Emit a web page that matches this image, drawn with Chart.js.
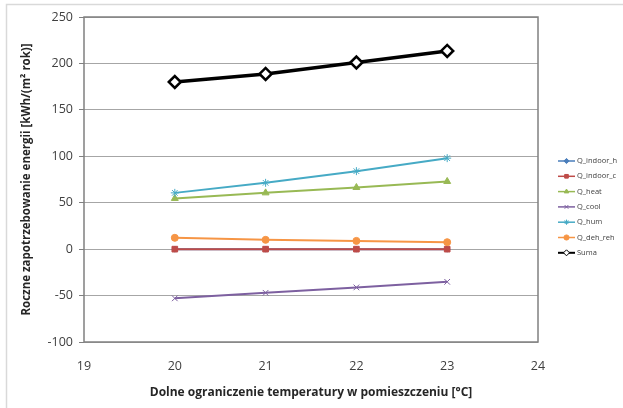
<!DOCTYPE html>
<html><head><meta charset="utf-8">
<script src="https://cdn.jsdelivr.net/npm/chart.js@4/dist/chart.umd.min.js"></script>
<style>html,body{margin:0;padding:0;background:#fff}#wrap{width:623px;height:408px;position:relative}</style>
</head><body><div id="wrap"><canvas id="c" width="623" height="408"></canvas></div>
<script>
const xValues = [20, 21, 22, 23];
const qIndoorH = [0, 0, 0, 0];
const qIndoorC = [0, 0, 0, 0];
const qHeat = [54.6, 60.6, 66.4, 72.9];
const qCool = [-53, -47, -41.2, -35.2];
const qHum = [60.6, 71.4, 84, 98];
const qDehReh = [12.2, 10, 8.9, 7.5];
const suma = [180, 188.7, 201, 213.5];
const xTitle = 'Dolne ograniczenie temperatury w pomieszczeniu [°C]';
const yTitle = 'Roczne zapotrzebowanie energii [kWh/(m² rok)]';

const pts = arr => xValues.map((x, i) => ({x, y: arr[i]}));
const font = "'Open Sans', 'Liberation Sans', sans-serif";

const series = [
  {label:'Q_indoor_h', data:qIndoorH, color:'#4A7EBB', style:'rectRot', r:3},
  {label:'Q_indoor_c', data:qIndoorC, color:'#BE4B48', style:'rect', r:4},
  {label:'Q_heat', data:qHeat, color:'#98B954', style:'triangle', r:4},
  {label:'Q_cool', data:qCool, color:'#7D60A0', style:'crossRot', r:4},
  {label:'Q_hum', data:qHum, color:'#46AAC5', style:'star', r:4},
  {label:'Q_deh_reh', data:qDehReh, color:'#F69545', style:'circle', r:3.5},
  {label:'Suma', data:suma, color:'#000000', style:'rectRot', r:6, width:3.5, fill:'#ffffff'}
];

const datasets = series.map((s, i) => ({
  label: s.label,
  data: pts(s.data),
  borderColor: s.color,
  backgroundColor: s.fill || s.color,
  pointBorderColor: s.color,
  pointBackgroundColor: s.fill || s.color,
  pointStyle: s.style,
  pointRadius: s.r,
  pointBorderWidth: s.fill ? 2.5 : 1,
  borderWidth: s.width || 2,
  tension: 0,
  order: series.length - i
}));

const framePlugin = {
  id: 'frame',
  beforeDraw(chart) {
    const ctx = chart.ctx;
    ctx.save();
    ctx.strokeStyle = '#d9d9d9';
    ctx.lineWidth = 1.5;
    ctx.strokeRect(6.5, 4.5, 700, 500);
    ctx.restore();
  },
  afterDatasetsDraw(chart) {
    const ctx = chart.ctx, a = chart.chartArea;
    ctx.save();
    ctx.strokeStyle = '#808080';
    ctx.lineWidth = 1.5;
    ctx.strokeRect(a.left, a.top, a.right - a.left, a.bottom - a.top);
    // legend
    const lx = 558, ly0 = 161, dy = 15.3;
    ctx.font = "7.5px " + font;
    ctx.textBaseline = 'middle';
    chart.data.datasets.forEach((ds, i) => {
      const y = ly0 + i * dy;
      ctx.strokeStyle = ds.borderColor;
      ctx.lineWidth = i === 6 ? 2 : 1.5;
      ctx.beginPath(); ctx.moveTo(lx, y); ctx.lineTo(lx + 17, y); ctx.stroke();
      ctx.strokeStyle = ds.pointBorderColor;
      ctx.fillStyle = ds.pointBackgroundColor;
      ctx.lineWidth = 1;
      Chart.helpers.drawPoint(ctx, {pointStyle: ds.pointStyle, radius: i === 6 ? 3 : 2.6, rotation: 0, borderWidth: 1}, lx + 8.5, y);
      ctx.fillStyle = '#404040';
      ctx.fillText(ds.label, lx + 19, y);
    });
    ctx.restore();
  }
};

new Chart(document.getElementById('c'), {
  type: 'line',
  data: { datasets },
  options: {
    responsive: false,
    animation: false,
    layout: { padding: { top: 17, right: 85, bottom: 8, left: 20 } },
    plugins: { legend: { display: false }, tooltip: { enabled: false } },
    scales: {
      x: {
        type: 'linear', min: 19, max: 24,
        ticks: { stepSize: 1, color: '#404040', font: { family: font, size: 12.5 }, padding: 12 },
        grid: { display: false, drawOnChartArea: false, drawTicks: true, tickLength: 5, tickColor: '#808080' },
        border: { display: false },
        title: { display: true, text: xTitle, color: '#262626', font: { family: font, size: 12, weight: 'bold' }, padding: { top: 4, bottom: 0 } },
        afterFit(s) { s.height = 58; }
      },
      y: {
        min: -100, max: 250,
        ticks: { stepSize: 50, color: '#404040', font: { family: font, size: 12.5 }, padding: 6 },
        grid: { color: '#a6a6a6', lineWidth: 1, drawTicks: true, tickLength: 5, tickColor: '#808080' },
        border: { display: false },
        title: { display: true, text: yTitle, color: '#262626', font: { family: font, size: 11.5, weight: 'bold' }, padding: { top: 0, bottom: 0 } },
        afterFit(s) { s.width = 64; }
      }
    }
  },
  plugins: [framePlugin]
});
</script></body></html>
